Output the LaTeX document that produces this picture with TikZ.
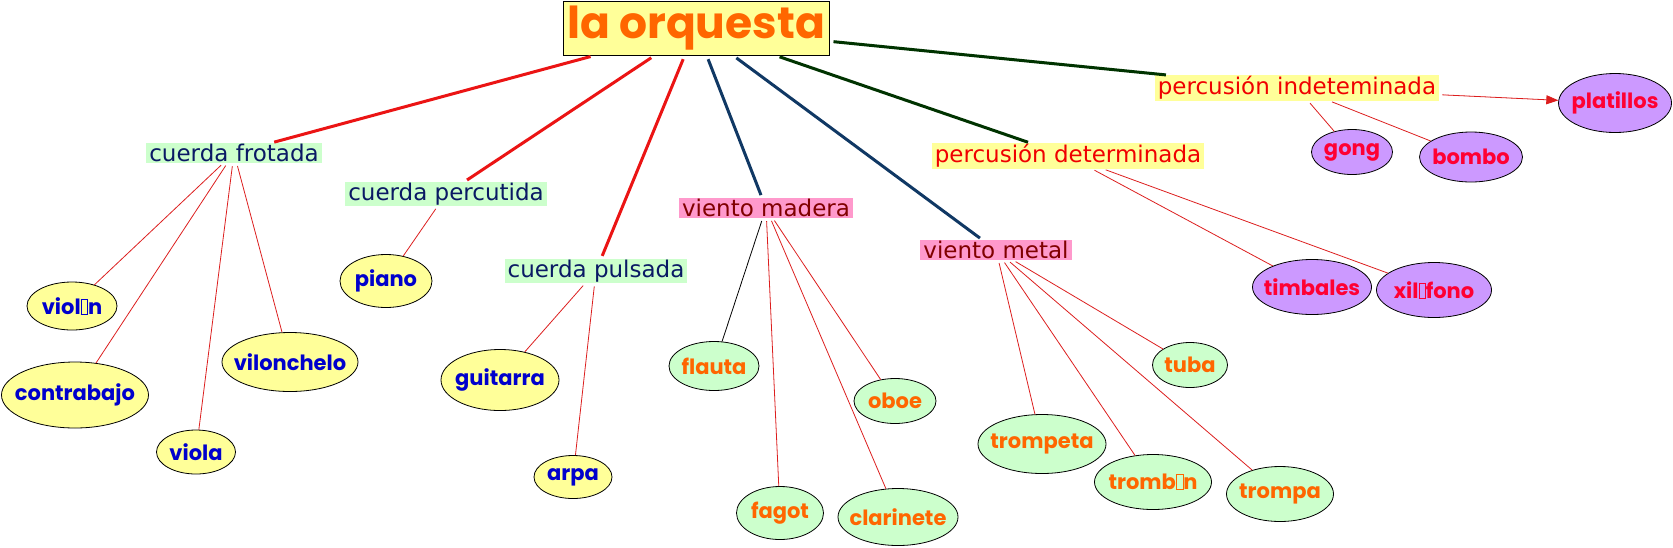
\documentclass[tikz,border=0pt]{standalone}
\usepackage{fontspec}
\usepackage{tikz}
\usetikzlibrary{arrows.meta, shapes.geometric}
\setsansfont{DejaVu Sans}
\newfontfamily\roundfont{Poppins}
\definecolor{pastelyellow}{RGB}{255, 255, 153}
\definecolor{pastelgreen}{RGB}{204, 255, 204}
\definecolor{pastelpink}{RGB}{255, 153, 204}
\definecolor{pastellilac}{RGB}{204, 153, 255}
\definecolor{titleorange}{RGB}{255, 102, 0}
\definecolor{labelnavy}{RGB}{10, 25, 100}
\definecolor{winered}{RGB}{128, 0, 0}
\definecolor{percred}{RGB}{240, 0, 0}
\definecolor{inkblue}{RGB}{0, 0, 204}
\definecolor{inkred}{RGB}{255, 0, 51}
\definecolor{trunkred}{RGB}{235, 20, 20}
\definecolor{trunknavy}{RGB}{16, 56, 100}
\definecolor{trunkgreen}{RGB}{0, 51, 0}
\definecolor{twigred}{RGB}{220, 30, 30}
% missing glyph as printed
\newcommand{\nog}{{\setlength{\fboxsep}{0pt}\setlength{\fboxrule}{0.7pt}\fbox{\rule{0pt}{0.7em}\hspace{0.28em}}}}

\begin{document}
\begin{tikzpicture}[x=1pt, y=-1pt,
    branch/.style={inner xsep=3pt, inner ysep=1pt, font=\sffamily\fontsize{23}{25}\selectfont},
    strings/.style={branch, fill=pastelgreen, text=labelnavy},
    winds/.style={branch, fill=pastelpink, text=winered},
    drums/.style={branch, fill=pastelyellow, text=percred},
    instr/.style={ellipse, draw, line width=0.8pt, inner xsep=-30pt, inner ysep=0pt, font=\roundfont\bfseries\fontsize{21}{22}\selectfont},
    strinstr/.style={instr, fill=pastelyellow, text=inkblue},
    windinstr/.style={instr, fill=pastelgreen, text=titleorange},
    druminstr/.style={instr, fill=pastellilac, text=inkred},
    trunk/.style={line width=3pt, shorten <=4pt, shorten >=3pt},
    twig/.style={draw=twigred, line width=0.8pt, shorten <=3pt},
]
\useasboundingbox (0,0) rectangle (1673,547);

% Title
\node[draw, line width=1pt, fill=pastelyellow, text=titleorange, inner sep=0pt, minimum width=266pt, minimum height=54pt, font=\roundfont\bfseries\fontsize{44}{46}\selectfont] (title) at (696,28) {la orquesta};

% Families
\node[strings] (frot) at (234,153) {cuerda frotada};
\node[strings] (perc) at (446,194) {cuerda percutida};
\node[strings] (puls) at (596,271) {cuerda pulsada};
\node[winds] (mad) at (766,208) {viento madera};
\node[winds] (met) at (996,250) {viento metal};
\node[drums] (det) at (1068,156) {percusión determinada};
\node[drums] (indet) at (1297,88) {percusión indeteminada};

% Strings
\node[strinstr, minimum width=90pt, minimum height=48pt] (vio) at (72,306) {viol\nog n};
\node[strinstr, minimum width=147pt, minimum height=66pt] (cbajo) at (75,395) {contrabajo};
\node[strinstr, minimum width=136pt, minimum height=59pt] (chelo) at (290,362) {vilonchelo};
\node[strinstr, minimum width=79pt, minimum height=44pt] (viola) at (196,452) {viola};
\node[strinstr, minimum width=92pt, minimum height=53pt] (piano) at (386,281) {piano};
\node[strinstr, minimum width=118pt, minimum height=61pt] (guit) at (500,380) {guitarra};
\node[strinstr, minimum width=78pt, minimum height=43pt] (arpa) at (573,477) {arpa};

% Winds
\node[windinstr, minimum width=90pt, minimum height=49pt] (flauta) at (714,366) {flauta};
\node[windinstr, minimum width=82pt, minimum height=45pt] (oboe) at (895,401) {oboe};
\node[windinstr, minimum width=87pt, minimum height=53pt] (fagot) at (780,513) {fagot};
\node[windinstr, minimum width=120pt, minimum height=57pt] (clar) at (898,517) {clarinete};
\node[windinstr, minimum width=128pt, minimum height=59pt] (tpta) at (1042,444) {trompeta};
\node[windinstr, minimum width=117pt, minimum height=55pt] (tbn) at (1153,482) {tromb\nog n};
\node[windinstr, minimum width=107pt, minimum height=55pt] (tpa) at (1280,494) {trompa};
\node[windinstr, minimum width=75pt, minimum height=45pt] (tuba) at (1190,365) {tuba};

% Percussion
\node[druminstr, minimum width=119pt, minimum height=55pt] (timb) at (1312,287) {timbales};
\node[druminstr, minimum width=115pt, minimum height=55pt] (xilo) at (1434,290) {xil\nog fono};
\node[druminstr, minimum width=113pt, minimum height=59pt] (plat) at (1615,103) {platillos};
\node[druminstr, minimum width=81pt, minimum height=45pt] (gong) at (1352,152) {gong};
\node[druminstr, minimum width=103pt, minimum height=50pt] (bombo) at (1471,157) {bombo};

% Trunk lines
\draw[trunk, trunkred] (title) -- (frot);
\draw[trunk, trunkred] (title) -- (perc);
\draw[trunk, trunkred] (title) -- (puls);
\draw[trunk, trunknavy] (title) -- (mad);
\draw[trunk, trunknavy] (title) -- (met);
\draw[trunk, trunkgreen] (title) -- (det);
\draw[trunk, trunkgreen] (title) -- (indet);

% Twigs
\foreach \i in {vio, cbajo, viola, chelo} \draw[twig] (frot) -- (\i);
\draw[twig] (perc) -- (piano);
\foreach \i in {guit, arpa} \draw[twig] (puls) -- (\i);
\draw[twig, draw=black] (mad) -- (flauta);
\foreach \i in {fagot, clar, oboe} \draw[twig] (mad) -- (\i);
\foreach \i in {tpta, tbn, tpa, tuba} \draw[twig] (met) -- (\i);
\foreach \i in {timb, xilo} \draw[twig] (det) -- (\i);
\foreach \i in {gong, bombo} \draw[twig] (indet) -- (\i);
\draw[twig, -{Triangle[length=12pt, width=9pt]}, fill=twigred] (indet) -- (plat);
\end{tikzpicture}
\end{document}
